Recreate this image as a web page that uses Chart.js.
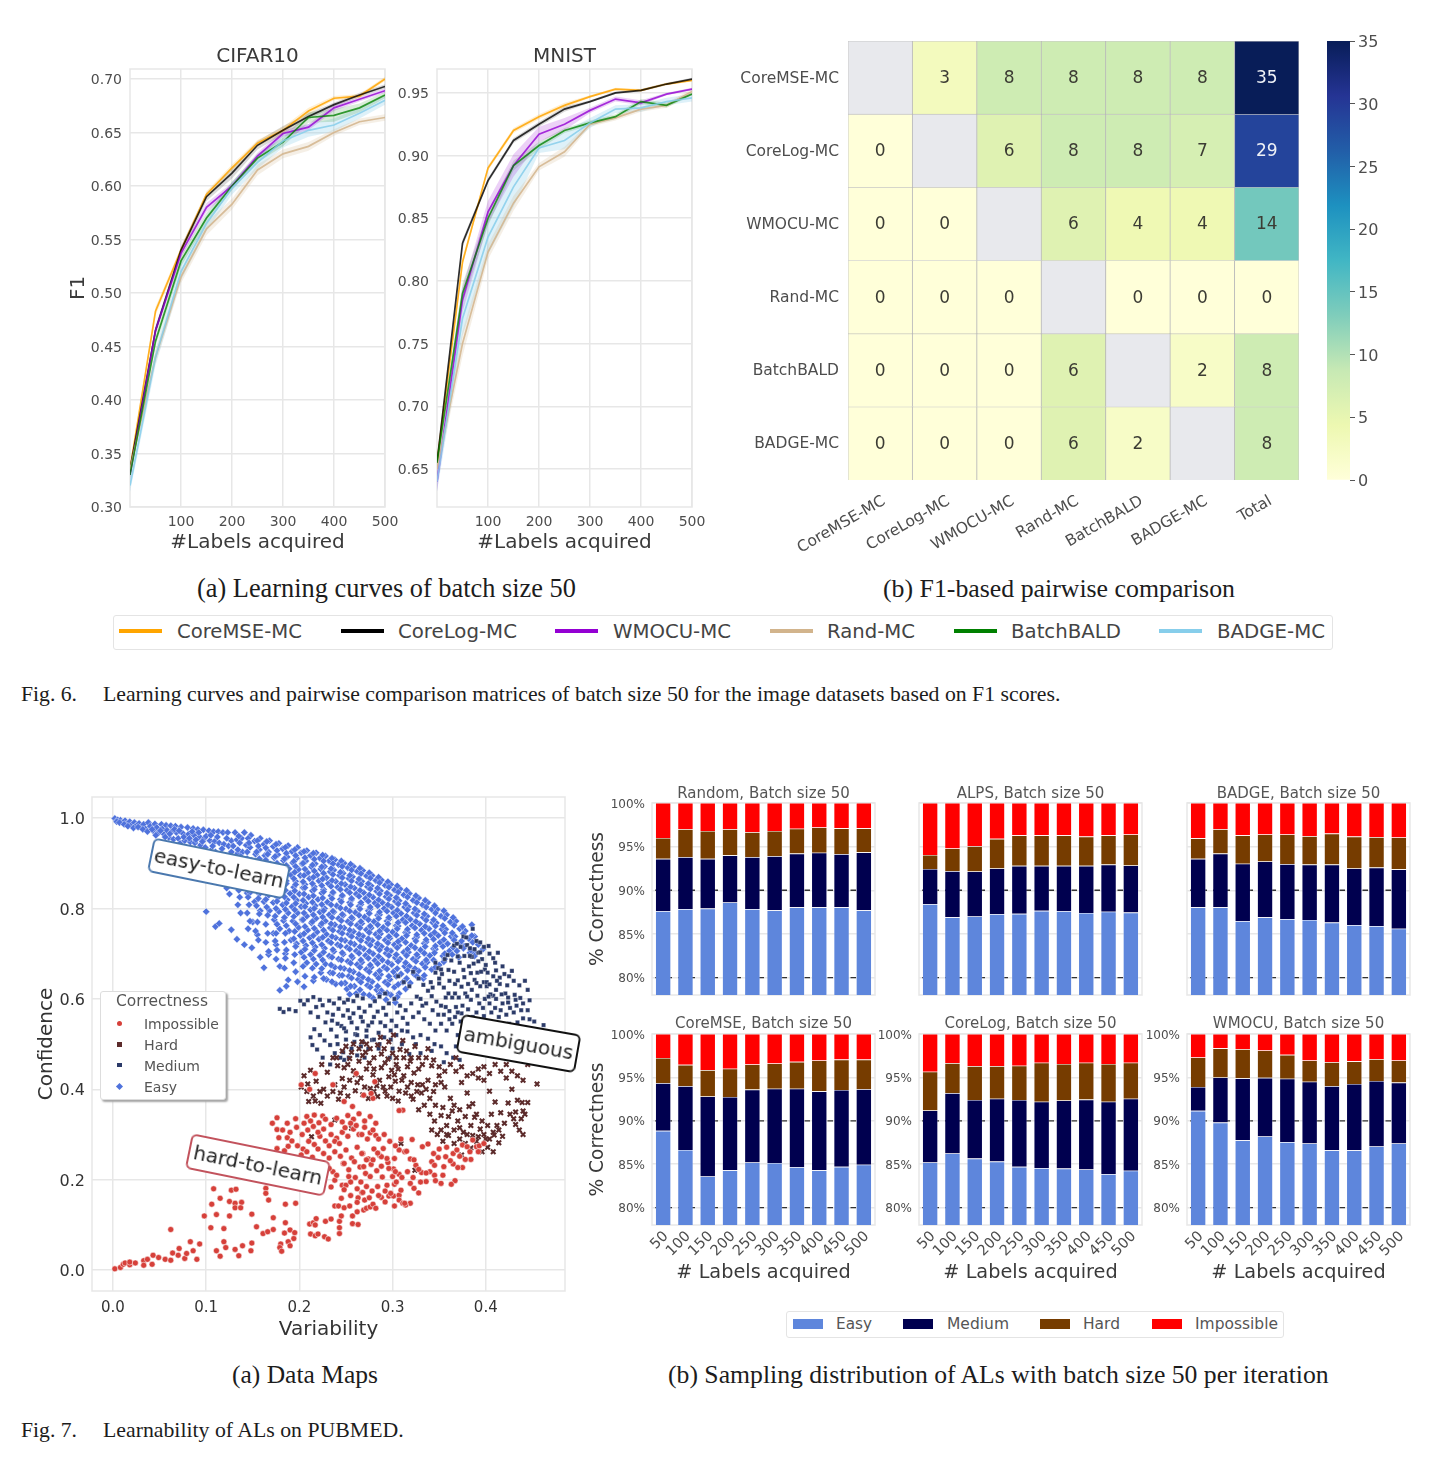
<!DOCTYPE html>
<html><head><meta charset="utf-8">
<script src="https://cdn.jsdelivr.net/npm/chart.js@4"></script>
<style>
html,body{margin:0;padding:0;background:#fff}
#page{position:relative;width:1432px;height:1461px;overflow:hidden;background:#fff;filter:blur(.45px)}
canvas{position:absolute}
.t{position:absolute;white-space:nowrap;transform:translateY(-50%);line-height:1}
.serif{font-family:"Liberation Serif",serif;color:#1c1c1c}
.sans{font-family:"DejaVu Sans",sans-serif;color:#444}
.box{position:absolute;background:#fff;border:1px solid #e4e4e4;border-radius:3px;box-sizing:border-box}
.sw{position:absolute}
.tag{position:absolute;background:#fff;font-family:"DejaVu Sans",sans-serif;font-size:20px;color:#222;text-align:center;border-radius:6px;border:2px solid;box-sizing:border-box;white-space:nowrap}
</style></head><body><div id="page"></div>
<script>
// ---------- learning curves ----------
const budgets=[0,50,100,150,200,250,300,350,400,450,500];
const methods=['CoreMSE-MC','CoreLog-MC','WMOCU-MC','Rand-MC','BatchBALD','BADGE-MC'];
const cifarCoreMSE=[.335,.483,.54,.592,.617,.64,.652,.67,.682,.684,.70];
const cifarCoreLog=[.335,.465,.54,.59,.612,.638,.652,.665,.676,.685,.693];
const cifarWMOCU=[.33,.465,.537,.58,.60,.628,.649,.655,.673,.681,.689];
const cifarRand=[.335,.44,.515,.56,.583,.615,.63,.637,.65,.66,.664];
const cifarBatchBALD=[.33,.455,.53,.57,.60,.626,.641,.664,.666,.673,.685];
const cifarBADGE=[.32,.44,.52,.565,.598,.622,.642,.652,.657,.668,.68];
const cifarBands=[[.004,.004,.003,.003,.003,.003,.003,.003,.002,.002,.002],[.004,.004,.004,.004,.005,.004,.004,.003,.002,.002,.002],[.004,.004,.004,.004,.003,.003,.003,.003,.003,.002,.002],[.004,.006,.006,.006,.005,.005,.004,.004,.003,.003,.003],[.004,.005,.005,.005,.004,.004,.004,.005,.006,.004,.003],[.006,.008,.008,.007,.006,.006,.006,.006,.006,.005,.004]];
const mnistCoreMSE=[.655,.815,.89,.92,.931,.94,.947,.953,.952,.957,.96];
const mnistCoreLog=[.655,.83,.88,.912,.925,.937,.943,.95,.952,.957,.961];
const mnistWMOCU=[.64,.785,.855,.892,.917,.925,.936,.945,.942,.949,.953];
const mnistRand=[.65,.75,.823,.862,.891,.903,.925,.93,.937,.94,.951];
const mnistBatchBALD=[.655,.79,.85,.892,.908,.92,.926,.931,.943,.94,.949];
const mnistBADGE=[.64,.77,.835,.875,.906,.912,.926,.937,.938,.943,.946];
const mnistBands=[[.005,.003,.002,.002,.002,.002,.001,.001,.001,.001,.001],[.005,.003,.002,.002,.002,.002,.001,.001,.001,.001,.001],[.008,.01,.009,.009,.006,.005,.002,.002,.002,.001,.001],[.006,.01,.006,.006,.003,.004,.002,.002,.002,.002,.002],[.005,.008,.006,.004,.003,.002,.002,.002,.002,.002,.001],[.008,.014,.014,.016,.004,.007,.004,.003,.003,.003,.003]];
const lineColors=['rgba(255,165,0,.85)','rgba(0,0,0,.8)','rgba(148,0,211,.8)','rgba(210,180,140,.85)','rgba(0,128,0,.78)','rgba(135,206,235,.85)'];
const bandColors=['rgba(255,165,0,.18)','rgba(0,0,0,.15)','rgba(148,0,211,.18)','rgba(210,180,140,.22)','rgba(0,128,0,.15)','rgba(135,206,235,.28)'];
const cifarTicks=[.30,.35,.40,.45,.50,.55,.60,.65,.70];
const mnistTicks=[.65,.70,.75,.80,.85,.90,.95];
const budgetTicks=[100,200,300,400,500];
// ---------- pairwise matrix ----------
const pairRows=['CoreMSE-MC','CoreLog-MC','WMOCU-MC','Rand-MC','BatchBALD','BADGE-MC'];
const pairCols=['CoreMSE-MC','CoreLog-MC','WMOCU-MC','Rand-MC','BatchBALD','BADGE-MC','Total'];
const rowCoreMSE=[null,3,8,8,8,8,35];
const rowCoreLog=[0,null,6,8,8,7,29];
const rowWMOCU=[0,0,null,6,4,4,14];
const rowRand=[0,0,0,null,0,0,0];
const rowBatchBALD=[0,0,0,6,null,2,8];
const rowBADGE=[0,0,0,6,2,null,8];
const colorbarTicks=[0,5,10,15,20,25,30,35];
const ylgnbu=['#ffffd9','#edf8b1','#c7e9b4','#7fcdbb','#41b6c4','#1d91c0','#225ea8','#253494','#081d58'];
// ---------- data map, x,y pairs in thousandths ----------
const impossiblePts=[2,3,8,6,11,13,13,16,18,12,18,18,24,16,33,21,33,11,37,24,42,13,43,33,49,28,56,24,62,22,62,90,64,38,71,48,70,33,77,26,79,37,83,63,86,43,90,24,93,58,98,120,105,94,106,146,108,180,111,123,111,43,115,31,115,159,119,92,119,63,121,50,125,152,125,120,127,177,132,179,131,46,131,148,131,138,138,150,137,138,135,32,139,54,148,43,149,60,149,124,154,96,164,181,164,170,167,155,161,81,166,85,172,90,172,116,185,146,196,148,185,105,184,82,190,89,195,83,194,70,188,63,190,54,180,58,179,50,181,42,211,102,215,105,218,114,217,100,212,80,217,76,220,80,227,74,231,69,228,108,234,113,243,81,243,94,243,108,245,120,238,142,242,142,245,159,248,138,254,142,257,120,257,103,263,101,262,129,263,160,267,172,269,133,272,137,276,140,279,146,282,137,288,161,292,151,296,164,301,164,302,142,307,166,307,155,311,148,319,148,314,144,171,325,176,337,176,311,187,325,196,335,208,340,216,343,225,341,178,293,187,293,192,286,188,274,176,269,184,264,158,260,203,300,209,310,215,318,221,326,228,334,234,322,240,336,246,328,252,342,258,334,264,346,270,330,276,340,282,325,198,275,204,268,210,285,216,278,222,296,228,286,234,300,240,292,246,305,252,296,258,312,264,300,270,316,276,304,282,298,202,255,208,262,214,250,220,268,226,258,232,248,238,262,244,252,250,266,256,248,262,272,268,258,274,246,280,268,286,254,247,236,253,222,259,240,265,228,271,214,277,234,283,220,289,206,295,238,301,224,307,212,313,262,319,246,325,232,331,216,236,218,238,199,234,184,246,188,250,188,253,207,248,236,294,188,302,190,300,207,303,218,296,225,294,247,302,247,307,266,321,289,315,263,332,273,338,279,344,258,349,249,357,251,365,258,369,266,375,277,380,273,386,288,390,273,393,275,384,245,375,227,370,227,365,235,367,198,363,190,352,192,354,210,355,229,342,240,340,218,336,196,328,171,323,181,319,192,323,244,328,223,309,177,313,148,288,251,290,269,279,244,284,259,269,229,272,244,276,207,284,185,288,230,267,258,279,380,281,417,236,410,217,435,202,410,211,400,261,435,248,373,257,362,269,387,277,391,311,354,307,353];
const impossibleFillPts=[182,310,190,305,197,316,205,325,212,330,220,305,226,312,232,275,238,285,243,280,249,315,255,325,261,320,267,300,273,290,279,310,285,290,291,300,297,285,303,275,309,290,225,235,232,225,240,210,210,240,218,232,260,205,266,195,272,185,278,175,285,165,292,175,298,170,304,195,310,205,316,218,322,205,330,195,336,215,345,210,346,198,255,165,262,150,270,155,248,178,255,195,262,180,268,172,275,160,345,232,350,268,358,272,362,242,372,252,378,245,383,262,392,262,398,280];
const hardPts=[205,430,212,442,218,418,224,455,230,438,236,470,241,452,246,424,250,495,254,468,258,441,262,415,267,505,271,482,275,458,279,432,283,408,287,515,291,490,295,467,299,442,303,418,307,396,311,508,315,485,319,462,323,436,327,410,331,392,209,412,226,400,238,410,244,392,252,385,260,397,268,388,276,402,284,384,292,396,300,380,306,374,314,392,322,378,248,448,256,482,264,462,272,445,280,470,288,448,296,428,304,455,312,430,320,415,328,445,336,470,342,452,338,420,344,395,350,430,356,405,362,380,368,440,374,415,380,392,386,368,392,445,398,420,404,396,410,372,416,348,422,425,428,400,434,376,440,352,346,365,352,342,358,320,364,352,370,330,376,305,382,362,388,338,394,312,400,290,406,345,412,320,418,296,424,370,430,335,436,310,342,310,348,300,354,285,360,298,366,280,372,290,378,280,384,270,390,285,396,262,402,272,408,262,414,282,439,371,445,371,440,300,432,322,409,299,210,373,217,374,223,369,238,332,256,314,213,295,309,280,324,221,374,255,455,412,445,455,301,520];
const hardFillPts=[202,405,208,395,215,385,222,395,230,385,236,395,242,378,248,405,254,420,260,432,266,425,270,405,274,380,280,395,286,420,290,405,294,385,298,405,302,432,306,445,310,420,316,405,320,385,326,395,332,410,336,400,340,380,346,410,352,415,240,470,246,485,252,455,258,500,264,490,268,475,272,500,276,490,280,445,284,498,288,478,292,458,296,505,300,480,304,470,308,488,312,470,316,450,320,470,324,495,328,470,332,455,338,490,344,465,350,450,356,440,362,455,368,470,374,450,380,430,386,435,392,425,398,450,404,435,410,455,416,440,422,455,428,440,434,430,440,420,354,360,360,340,366,365,372,355,378,340,384,320,390,345,396,330,402,320,408,305,414,310,420,325,426,345,432,350,438,335,442,345,340,345,334,365,328,355,345,330,352,310,358,300,366,310,372,315,380,300,386,298,392,295,398,300,404,290];
const mediumPts=[179,578,183,571,189,577,196,573,201,596,205,588,209,597,215,604,222,598,225,586,218,582,232,596,237,590,243,601,248,592,252,598,258,595,262,607,268,601,230,570,236,565,242,578,247,563,252,575,258,568,264,580,270,572,276,585,281,595,286,605,292,612,216,533,212,515,222,520,214,498,219,488,227,508,234,532,240,517,233,498,245,540,250,528,256,548,262,535,268,550,274,541,280,560,287,548,293,565,299,552,305,570,311,558,241,500,247,482,253,470,259,505,266,495,272,517,278,509,285,525,291,515,298,530,304,520,310,500,316,528,322,515,262,475,270,470,248,465,285,490,300,490,318,478,325,500,330,520,338,512,345,500,352,495,358,480,365,470,372,465,306,650,312,637,318,628,322,660,328,645,333,631,338,618,342,606,347,594,352,585,357,603,360,612,367,633,370,641,376,664,382,672,385,693,392,702,396,688,341,637,346,658,349,668,356,688,359,697,366,718,369,722,376,738,379,736,386,755,343,625,350,634,353,655,360,664,363,685,370,694,373,715,380,719,383,712,390,728,394,703,357,582,364,603,367,612,374,627,377,648,384,657,387,678,392,683,399,665,402,658,361,573,368,582,371,603,378,612,381,633,388,642,391,658,398,637,401,628,408,607,374,568,381,577,384,598,391,607,394,628,401,637,404,632,411,663,415,647,403,717,413,702,428,662,425,650,410,680,418,672,415,633,421,612,424,603,431,609,437,602,445,620,447,597,440,590,433,585,426,580,418,590,411,600,404,590,397,580,390,570,398,562,406,570,414,560,422,565,430,570,440,557,447,555,452,550,462,542,434,548,425,545];
const mediumFillPts=[212,570,220,560,228,548,235,552,241,545,248,535,254,558,260,522,266,560,272,530,278,548,284,572,290,580,296,590,302,600,308,585,314,575,320,590,326,605,332,585,238,480,244,470,250,510,256,490,262,520,268,505,274,490,280,510,286,500,292,540,298,510,304,540,310,530,316,545,322,560,328,570,334,555,340,545,346,530,352,545,358,530,364,545,370,520,376,540,382,525,388,545,394,520,400,545,406,530,412,545,225,470,233,455,297,470,330,480,342,485,355,460,368,495,378,500,390,480,330,600,336,590,343,575,349,565,355,565,361,555,367,560,373,550,379,555,386,560,393,590,399,600,405,610,411,620,417,610,346,680,352,665,350,645,355,625,361,640,366,660,372,680,377,695,383,695,388,710,394,725,398,715,404,700,408,690,400,675,395,660,390,635,385,620,380,605,375,585,370,570,412,640,408,650,420,655,423,630,430,640,436,630,442,640,403,605,410,580,416,575,424,592,432,598,438,575,445,575];
const easyPts=[2,999,5,996,8,995,10,990,13,994,15,988,18,992,20,985,23,990,25,983,28,988,30,980,33,986,35,976,38,990,40,982,43,972,45,987,47,979,49,968,52,986,53,976,55,964,57,984,58,973,60,957,62,983,63,970,65,953,67,982,68,968,70,955,72,944,73,980,75,966,77,950,78,936,80,979,81,964,83,947,84,930,86,977,87,962,88,945,90,926,91,975,93,958,94,940,95,915,97,974,98,955,99,935,101,905,103,972,104,950,105,928,106,912,108,970,109,948,110,925,111,895,113,970,114,945,115,918,116,885,118,968,119,942,120,915,121,875,123,968,124,938,125,905,126,860,127,950,131,968,133,952,129,938,134,922,130,908,132,892,135,878,128,862,133,848,141,968,138,955,143,940,139,925,144,910,140,895,137,880,142,865,139,850,144,834,148,962,152,949,147,935,153,920,149,906,151,892,146,878,154,864,150,850,147,835,152,815,158,955,162,942,157,930,163,917,159,903,161,888,156,875,164,860,160,846,157,832,162,815,158,795,168,950,172,937,167,925,173,912,169,898,171,884,166,871,174,857,170,843,167,829,172,813,168,795,173,775,178,944,182,932,177,919,183,906,179,893,181,880,176,866,184,852,180,838,177,824,182,808,178,793,183,773,179,755,188,939,192,926,187,914,193,901,189,888,191,874,186,861,194,847,190,833,187,819,192,804,188,790,193,772,189,750,191,730,198,935,202,923,197,911,203,899,199,886,201,873,196,860,204,846,200,832,197,818,202,804,198,790,203,775,199,758,201,740,197,722,202,703,208,928,212,917,207,905,213,892,209,879,211,866,206,853,214,839,210,825,207,811,212,797,208,783,213,768,209,752,211,735,207,718,212,698,208,680,218,923,222,911,217,899,223,887,219,874,221,861,216,848,224,834,220,820,217,806,222,792,218,778,223,763,219,748,221,732,217,715,222,696,218,677,223,658,228,916,232,905,227,893,233,881,229,868,231,855,226,842,234,828,230,814,227,800,232,786,228,772,233,757,229,743,231,728,227,712,232,695,228,677,233,658,229,643,238,908,242,897,237,885,243,873,239,860,241,847,236,834,244,820,240,806,237,792,242,778,238,764,243,749,239,735,241,720,237,705,242,688,238,670,243,652,239,633,248,900,252,890,247,878,253,866,249,853,251,840,246,827,254,813,250,799,247,785,252,771,248,757,253,743,249,729,251,714,247,699,252,683,248,667,253,650,249,635,251,622,258,893,262,882,257,870,263,858,259,845,261,832,256,819,264,805,260,791,257,777,262,763,258,749,263,735,259,721,261,706,257,691,262,676,258,660,263,643,259,628,261,612,268,884,272,872,267,860,273,848,269,835,271,822,266,809,274,795,270,781,267,767,272,753,268,739,273,725,269,711,271,696,267,681,272,665,268,648,273,630,269,610,278,873,282,862,277,850,283,838,279,825,281,812,276,799,284,785,280,771,277,757,282,743,278,729,283,715,279,700,281,685,277,670,282,654,278,638,283,620,279,602,288,863,292,851,287,839,293,826,289,813,291,800,286,786,294,772,290,758,287,744,292,730,288,716,293,701,289,686,291,670,287,654,292,637,288,618,293,598,298,853,302,841,297,829,303,816,299,803,301,790,296,776,304,762,300,748,297,734,302,720,298,706,303,691,299,676,301,660,297,643,302,626,298,609,303,592,308,843,312,830,307,817,313,803,309,789,311,775,306,761,314,747,310,733,307,718,312,703,308,688,313,672,309,655,311,637,307,612,318,833,322,818,317,804,323,790,319,776,321,762,316,747,324,733,320,718,317,703,322,688,318,672,323,655,319,635,328,823,332,808,327,794,333,780,329,766,331,752,326,737,334,723,330,708,327,693,332,678,328,662,333,645,338,813,342,798,337,783,343,769,339,755,341,741,336,726,344,711,340,696,337,681,342,665,348,798,352,783,347,768,353,754,349,740,351,725,346,710,354,695,350,675,358,786,362,770,357,754,363,738,359,722,361,706,356,688,368,772,372,755,367,738,373,722,369,706,371,692,378,750,382,733,377,716,383,702,385,764,388,738,392,720,387,703,397,710,388,695,100,793,110,760,114,767,127,753,133,732,141,720,149,713,158,692,167,698,162,669,179,619,186,628,188,642,179,672,198,638,205,627,215,640,155,742,150,770,172,745,175,720,185,700];
const easyFillPts=[4,992,7,990,12,986,16,982,22,978,27,980,32,975,37,970,42,975,46,962,51,972,56,958,61,965,66,975,71,972,76,958,82,955,85,970,89,952,92,968,96,948,100,960,105,962,107,938,104,902,106,882,112,958,117,932,113,905,116,875,112,858,122,955,127,925,123,890,127,875,122,845,125,832,135,960,136,945,134,930,137,915,135,900,136,885,134,870,137,855,135,840,136,825,134,808,137,790,145,955,146,945,144,925,147,903,145,888,146,872,144,857,147,842,145,825,146,808,144,790,147,772,145,755,155,950,156,938,154,925,157,910,155,897,156,882,154,868,157,853,155,838,156,822,154,806,157,788,155,770,153,750,156,730,165,948,164,934,166,920,164,907,165,892,166,878,164,865,165,850,166,836,164,820,165,803,166,785,164,765,166,745,164,725,167,705,175,942,176,928,174,915,176,900,175,887,174,873,176,858,175,845,174,830,176,816,175,800,174,783,176,765,175,745,174,728,176,708,175,688,185,935,186,922,184,910,186,895,185,882,184,868,186,855,185,840,184,826,186,812,185,798,184,780,186,762,185,745,184,725,186,708,185,690,184,668,195,930,196,917,194,904,196,893,195,880,194,866,196,853,195,839,194,825,196,811,195,797,194,782,196,766,195,749,194,733,196,716,195,698,194,680,196,660,205,926,206,912,204,900,206,887,205,873,204,859,206,846,205,832,204,818,206,804,205,790,204,775,206,760,205,744,204,728,206,710,205,692,204,672,206,650,215,922,216,909,214,896,216,883,215,869,214,855,216,842,215,828,214,814,216,800,215,786,214,771,216,756,215,740,214,724,216,707,215,688,214,668,216,648,225,918,226,905,224,892,226,878,225,865,224,851,226,837,225,823,224,809,226,795,225,781,224,767,226,752,225,736,224,720,226,703,225,686,224,667,226,645,235,911,236,899,234,888,236,875,235,862,234,849,236,836,235,822,234,808,236,794,235,780,234,766,236,752,235,738,234,724,236,709,235,692,234,675,236,657,235,638,245,905,246,893,244,880,246,868,245,855,244,842,246,829,245,815,244,801,246,787,245,773,244,759,246,745,245,731,244,717,246,702,245,686,244,669,246,652,245,634,255,898,256,885,254,873,256,861,255,848,254,835,256,822,255,808,254,794,256,780,255,766,254,752,256,738,255,724,254,710,256,695,255,679,254,663,256,646,255,628,254,610,265,889,266,877,264,865,266,853,265,840,264,827,266,813,265,799,264,785,266,771,265,757,264,743,266,729,265,715,264,701,266,686,265,670,264,654,266,637,265,620,275,879,276,867,274,855,276,843,275,830,274,816,276,803,275,789,274,775,276,761,275,747,274,733,276,719,275,705,274,690,276,675,275,660,274,643,276,626,275,608,285,869,286,857,284,845,286,832,285,819,284,806,286,792,285,778,284,764,286,750,285,736,284,722,286,708,285,694,284,678,286,662,285,646,284,628,286,610,295,859,296,847,294,834,296,821,295,808,294,794,296,780,295,766,294,752,296,738,295,724,294,710,296,696,295,681,294,666,296,650,295,632,294,613,305,850,306,836,304,824,306,810,305,796,304,783,306,769,305,755,304,741,306,727,305,713,304,698,306,683,305,667,304,650,306,632,305,604,315,840,316,825,314,811,316,797,315,783,314,769,316,754,315,740,314,725,316,710,315,696,314,680,316,663,315,645,314,622,325,828,326,813,324,799,326,785,325,771,324,757,326,742,325,728,324,713,326,698,325,683,324,667,326,650,335,818,336,803,334,788,336,774,335,760,334,745,336,731,335,716,334,701,336,686,335,670,334,652,345,806,346,790,344,775,346,761,345,747,344,732,346,717,345,702,344,686,346,670,355,795,356,778,354,762,356,746,355,731,354,716,356,700,355,682,365,780,366,763,364,746,366,730,365,714,364,698,375,760,376,744,374,728,376,712,385,740,386,725,384,708];
const variabilityTicks=[0,.1,.2,.3,.4];
const confidenceTicks=[0,.2,.4,.6,.8,1];
// ---------- sampling distribution ----------
const iterLabels=['50','100','150','200','250','300','350','400','450','500'];
const pctTicks=[80,85,90,95,100];
const refLines=[80,90];
const randomEasy=[87.6,87.85,87.9,88.6,87.85,87.7,88.05,88.05,88.05,87.7];
const randomMedium=[6,5.95,5.7,5.4,5.95,6.2,6.15,6.25,6.1,6.65];
const randomHard=[2.4,3.2,3.2,3,2.85,2.9,2.85,2.9,2.95,2.75];
const randomImpossible=[4,3,3.2,3,3.35,3.2,2.95,2.8,2.9,2.9];
const alpsEasy=[88.4,86.9,87,87.25,87.3,87.65,87.6,87.4,87.55,87.45];
const alpsMedium=[4.05,5.3,5.15,5.25,5.5,5.15,5.2,5.4,5.4,5.4];
const alpsHard=[1.6,2.6,2.9,3.4,3.5,3.5,3.5,3.35,3.35,3.55];
const alpsImpossible=[5.95,5.2,4.95,4.1,3.7,3.7,3.7,3.85,3.7,3.6];
const badgeEasy=[88.05,88.05,86.45,86.9,86.7,86.6,86.3,86,85.9,85.6];
const badgeMedium=[5.55,6.15,6.6,6.4,6.3,6.35,6.65,6.5,6.7,6.8];
const badgeHard=[2.35,2.8,3.25,3.1,3.4,3.25,3.55,3.65,3.5,3.65];
const badgeImpossible=[4.05,3,3.7,3.6,3.6,3.8,3.5,3.85,3.9,3.95];
const coremseEasy=[88.85,86.65,83.6,84.3,85.2,85.15,84.65,84.3,84.7,84.95];
const coremseMedium=[5.5,7.35,9.2,8.45,8.4,8.55,9.05,9.1,8.85,8.7];
const coremseHard=[2.9,2.45,3.05,3.25,2.9,2.9,3.1,3.55,3.5,3.4];
const coremseImpossible=[2.75,3.55,4.15,4,3.5,3.4,3.2,3.05,2.95,2.95];
const corelogEasy=[85.2,86.25,85.65,85.3,84.7,84.55,84.5,84.4,83.85,84.25];
const corelogMedium=[6,6.95,6.75,7.25,7.7,7.65,7.85,8.05,8.35,8.3];
const corelogHard=[4.45,3.45,3.9,3.75,3.95,4.5,4.2,4.25,4.35,4.15];
const corelogImpossible=[4.35,3.35,3.7,3.7,3.65,3.3,3.45,3.3,3.45,3.3];
const wmocuEasy=[91.15,89.8,87.75,88.2,87.55,87.4,86.6,86.6,87.05,87.4];
const wmocuMedium=[2.75,5.2,7.15,6.75,7.3,7.1,7.4,7.65,7.55,7];
const wmocuHard=[3.4,3.35,3.35,3.15,2.75,2.45,2.75,2.6,2.5,2.55];
const wmocuImpossible=[2.7,1.65,1.75,1.9,2.4,3.05,3.25,3.15,2.9,3.05];
const levelNames=['Easy','Medium','Hard','Impossible'];
const levelColors=['#5e86dc','#00004f','#763c00','#ff0000'];

// ---------- helpers ----------
const page=document.getElementById('page');
const SANS='"DejaVu Sans", sans-serif';
const GRID='#e7e7e7', TICK='#4d4d4d';
Chart.defaults.font.family=SANS;
const measureCtx=document.createElement('canvas').getContext('2d');
function fitText(str,x1,x2,yc,family,cls,color){
  measureCtx.font='100px '+family;
  const size=100*(x2-x1)/measureCtx.measureText(str).width;
  const d=document.createElement('div');d.className='t '+cls;d.textContent=str;
  d.style.cssText+=`left:${x1}px;top:${yc+1}px;font-size:${size.toFixed(2)}px;`+(color?`color:${color};`:'');
  page.appendChild(d);
}
function mk(plot,m){
  const c=document.createElement('canvas');
  c.width=plot.r-plot.l+m.l+m.r;c.height=plot.b-plot.t+m.t+m.b;
  c.style.left=(plot.l-m.l)+'px';c.style.top=(plot.t-m.t)+'px';
  page.appendChild(c);return c.getContext('2d');
}
const frame={id:'frame',beforeDatasetsDraw(ch){const a=ch.chartArea,g=ch.ctx;g.save();g.strokeStyle=GRID;g.lineWidth=1.5;g.strokeRect(a.left,a.top,a.right-a.left,a.bottom-a.top);g.restore();}};
function fixedX(h){return s=>{s.height=h;s.paddingLeft=0;s.paddingRight=0;};}
function fixedY(w){return s=>{s.width=w;s.paddingTop=0;s.paddingBottom=0;};}
const base={responsive:false,animation:false,devicePixelRatio:1,events:[]};
function legendOff(extra){return Object.assign({legend:{display:false},tooltip:{enabled:false}},extra||{});}

// ---------- line panels ----------
function linePanel(title,plot,series,bands,yr,yt,yTitle,ml){
  const pts=a=>a.map((v,i)=>({x:budgets[i],y:v}));
  const ds=[];
  series.forEach((s,i)=>ds.push({label:methods[i],data:pts(s),borderColor:lineColors[i],borderWidth:1.7,pointRadius:0,fill:false,tension:0,order:6-i}));
  series.forEach((s,i)=>{
    ds.push({label:methods[i]+' upper',data:pts(s.map((v,j)=>v+bands[i][j])),borderWidth:0,pointRadius:0,fill:'+1',backgroundColor:bandColors[i],order:20+i});
    ds.push({label:methods[i]+' lower',data:pts(s.map((v,j)=>v-bands[i][j])),borderWidth:0,pointRadius:0,fill:false,order:20+i});
  });
  const m={l:ml,r:22,t:40,b:48};
  new Chart(mk(plot,m),{type:'line',data:{datasets:ds},plugins:[frame],options:Object.assign({},base,{
    layout:{padding:{top:m.t-24,right:m.r}},
    plugins:legendOff({title:{display:true,text:title,fullSize:false,color:'#3a3a3a',font:{size:20,weight:'normal',family:SANS},padding:{top:0,bottom:0}}}),
    scales:{
      x:{type:'linear',min:0,max:500,afterFit:fixedX(m.b),afterBuildTicks:s=>{s.ticks=budgetTicks.map(v=>({value:v}));},
        grid:{color:GRID,lineWidth:1.5,drawTicks:false},border:{display:false},
        ticks:{color:TICK,font:{size:14},padding:7,maxRotation:0,minRotation:0},
        title:{display:true,text:'#Labels acquired',color:'#3a3a3a',font:{size:20},padding:0}},
      y:{min:yr[0],max:yr[1],afterFit:fixedY(ml),afterBuildTicks:s=>{s.ticks=yt.map(v=>({value:v}));},
        grid:{color:GRID,lineWidth:1.5,drawTicks:false},border:{display:false},
        ticks:{color:TICK,font:{size:14},padding:8,labelOffset:1.5,callback:v=>v.toFixed(2)},
        title:{display:!!yTitle,text:yTitle||'',color:'#3a3a3a',font:{size:20},padding:0}}
    }})});
}
linePanel('CIFAR10',{l:130,r:385,t:69,b:507},[cifarCoreMSE,cifarCoreLog,cifarWMOCU,cifarRand,cifarBatchBALD,cifarBADGE],cifarBands,[.30,.7093],cifarTicks,'F1',63);
linePanel('MNIST',{l:436.5,r:692,t:69,b:507},[mnistCoreMSE,mnistCoreLog,mnistWMOCU,mnistRand,mnistBatchBALD,mnistBADGE],mnistBands,[.6197,.969],mnistTicks,'',42);

// ---------- heat map ----------
function ylColor(v){
  if(v===null) return '#e8e9ed';
  const t=v/35*8,i=Math.min(7,Math.floor(t)),f=t-i;
  const p=h=>[1,3,5].map(k=>parseInt(h.substr(k,2),16));
  const a=p(ylgnbu[i]),b=p(ylgnbu[i+1]);
  return `rgb(${a.map((c,k)=>Math.round(c+(b[k]-c)*f)).join(',')})`;
}
const pairMatrix=[rowCoreMSE,rowCoreLog,rowWMOCU,rowRand,rowBatchBALD,rowBADGE];
const cellText={id:'cellText',afterDatasetsDraw(ch){
  const g=ch.ctx,x=ch.scales.x,y=ch.scales.y;g.save();g.font='17px '+SANS;g.textAlign='center';g.textBaseline='middle';
  pairMatrix.forEach((row,r)=>row.forEach((v,c)=>{if(v===null)return;
    g.fillStyle=v>20?'#eef1f6':'#3c3c34';g.fillText(String(v),x.getPixelForTick(c),y.getPixelForValue(5.5-r)+1);}));
  g.restore();}};
{
  const m={l:120,r:30,t:10,b:80};
  new Chart(mk({l:848,r:1299,t:41,b:480},m),{type:'bar',
    data:{labels:pairCols,datasets:pairMatrix.map((row,r)=>({label:pairRows[r],data:row.map(()=>1),backgroundColor:row.map(ylColor),borderColor:'rgba(110,110,110,.38)',borderWidth:.8,barPercentage:1,categoryPercentage:1})).reverse()},
    plugins:[cellText],options:Object.assign({},base,{layout:{padding:{top:m.t,right:m.r}},plugins:legendOff(),
      scales:{
        x:{stacked:true,afterFit:fixedX(m.b),grid:{display:false,drawTicks:false},border:{display:false},
           ticks:{color:TICK,font:{size:15.5},minRotation:30,maxRotation:30,padding:12,labelOffset:4,autoSkip:false}},
        y:{stacked:true,min:0,max:6,afterFit:fixedY(m.l),afterBuildTicks:s=>{s.ticks=pairRows.map((n,i)=>({value:5.5-i}));},
           grid:{display:false,drawTicks:false},border:{display:false},
           ticks:{color:TICK,font:{size:15.5},padding:9,labelOffset:1,callback:v=>pairRows[Math.round(5.5-v)]}}
      }})});
  const mc={l:0,r:60,t:12,b:12};
  new Chart(mk({l:1327,r:1350,t:41,b:480},mc),{type:'bar',
    data:{labels:['Total'],datasets:[{label:'scale',data:[colorbarTicks[colorbarTicks.length-1]],barPercentage:1,categoryPercentage:1,
      backgroundColor:c=>{const a=c.chart.chartArea;if(!a)return '#fff';const g=c.chart.ctx.createLinearGradient(0,a.bottom,0,a.top);ylgnbu.forEach((h,i)=>g.addColorStop(i/8,h));return g;}}]},
    options:Object.assign({},base,{layout:{padding:{top:mc.t,bottom:mc.b}},plugins:legendOff(),
      scales:{x:{display:false},
        y:{position:'right',min:0,max:35,afterFit:fixedY(mc.r),afterBuildTicks:s=>{s.ticks=colorbarTicks.map(v=>({value:v}));},
          grid:{drawOnChartArea:false,color:'#555',tickLength:5,lineWidth:1},border:{display:false},
          ticks:{color:TICK,font:{size:16},padding:3,labelOffset:2}}}})});
}

// ---------- data map ----------
function pairs(a){const o=[];for(let i=0;i<a.length;i+=2)o.push({x:a[i]/1000,y:a[i+1]/1000});return o;}
{
  const m={l:57,r:15,t:8,b:51};
  new Chart(mk({l:92,r:565,t:797,b:1291},m),{type:'scatter',data:{datasets:[
    {label:'Impossible',data:pairs(impossiblePts.concat(impossibleFillPts)),pointStyle:'circle',pointRadius:3,backgroundColor:'#d6403a',borderColor:'rgba(255,255,255,.75)',borderWidth:.7},
    {label:'Hard',data:pairs(hardPts.concat(hardFillPts)),pointStyle:'crossRot',pointRadius:3.2,borderColor:'#5c2b2b',borderWidth:2.1},
    {label:'Medium',data:pairs(mediumPts.concat(mediumFillPts)),pointStyle:'rect',pointRadius:3,backgroundColor:'#2b3a68',borderColor:'rgba(255,255,255,.6)',borderWidth:.5},
    {label:'Easy',data:pairs(easyPts.concat(easyFillPts)),pointStyle:'rectRot',pointRadius:3.7,backgroundColor:'#4f72dc',borderColor:'rgba(255,255,255,.7)',borderWidth:.6}
  ]},plugins:[frame],options:Object.assign({},base,{layout:{padding:{top:m.t,right:m.r}},plugins:legendOff(),
    scales:{
      x:{type:'linear',min:-.0225,max:.485,afterFit:fixedX(m.b),afterBuildTicks:s=>{s.ticks=variabilityTicks.map(v=>({value:v}));},
        grid:{color:GRID,lineWidth:1.5,drawTicks:false},border:{display:false},
        ticks:{color:'#333',font:{size:15},padding:8,maxRotation:0,callback:v=>v.toFixed(1)},
        title:{display:true,text:'Variability',color:'#333',font:{size:20},padding:0}},
      y:{min:-.046,max:1.0465,afterFit:fixedY(m.l),afterBuildTicks:s=>{s.ticks=confidenceTicks.map(v=>({value:v}));},
        grid:{color:GRID,lineWidth:1.5,drawTicks:false},border:{display:false},
        ticks:{color:'#333',font:{size:16},padding:7,labelOffset:2,callback:v=>v.toFixed(1)},
        title:{display:true,text:'Confidence',color:'#333',font:{size:20},padding:0}}
    }})});
}

// ---------- stacked panels ----------
const dashRefs={id:'dashRefs',beforeDatasetsDraw(ch){const a=ch.chartArea,y=ch.scales.y,g=ch.ctx;g.save();g.strokeStyle='#333';g.lineWidth=1.3;g.setLineDash([5.5,6]);
  refLines.forEach(v=>{const p=y.getPixelForValue(v);g.beginPath();g.moveTo(a.left+3,p);g.lineTo(a.right-3,p);g.stroke();});g.restore();}};
function stackPanel(title,col,row,vals,showY,showX,yTitle){
  const colL=[652,919,1187][col],tops=[803,1034][row],bots=[995,1225][row];
  const ml=yTitle?65:(showY?45:3),mb=showX?60:3;
  const m={l:ml,r:10,t:30,b:mb},bb=row?1:0;
  new Chart(mk({l:colL,r:colL+223,t:tops,b:bots},m),{type:'bar',
    data:{labels:iterLabels,datasets:vals.map((v,i)=>({label:levelNames[i],data:v,backgroundColor:levelColors[i],borderColor:'rgba(255,255,255,.45)',borderWidth:.6,barPercentage:.7,categoryPercentage:1}))},
    plugins:[frame,dashRefs],options:Object.assign({},base,{layout:{padding:{top:m.t-18-bb,right:m.r}},
      plugins:legendOff({title:{display:true,text:title,fullSize:false,color:'#555',font:{size:15,weight:'normal',family:SANS},padding:{top:0,bottom:bb}}}),
      scales:{
        x:{stacked:true,afterFit:fixedX(mb),grid:{display:false,drawTicks:false},border:{display:false},
          ticks:{display:showX,color:TICK,font:{size:14.5},minRotation:45,maxRotation:45,padding:3,labelOffset:3,autoSkip:false},
          title:{display:showX,text:'# Labels acquired',color:'#3a3a3a',font:{size:19.3},padding:0}},
        y:{stacked:true,min:78,max:100,afterFit:fixedY(ml),afterBuildTicks:s=>{s.ticks=pctTicks.map(v=>({value:v}));},
          grid:{color:GRID,lineWidth:1.5,drawTicks:false},border:{display:false},
          ticks:{display:showY,color:TICK,font:{size:12},padding:7,labelOffset:1.5,callback:v=>v+'%'},
          title:{display:!!yTitle,text:'% Correctness',color:'#3a3a3a',font:{size:18.6},padding:0}}
      }})});
}
stackPanel('Random, Batch size 50',0,0,[randomEasy,randomMedium,randomHard,randomImpossible],true,false,true);
stackPanel('ALPS, Batch size 50',1,0,[alpsEasy,alpsMedium,alpsHard,alpsImpossible],false,false,false);
stackPanel('BADGE, Batch size 50',2,0,[badgeEasy,badgeMedium,badgeHard,badgeImpossible],false,false,false);
stackPanel('CoreMSE, Batch size 50',0,1,[coremseEasy,coremseMedium,coremseHard,coremseImpossible],true,true,true);
stackPanel('CoreLog, Batch size 50',1,1,[corelogEasy,corelogMedium,corelogHard,corelogImpossible],true,true,false);
stackPanel('WMOCU, Batch size 50',2,1,[wmocuEasy,wmocuMedium,wmocuHard,wmocuImpossible],true,true,false);

// ---------- page text, legends, tags ----------
const SERIF='"Liberation Serif"',DJ='"DejaVu Sans"';
fitText('(a) Learning curves of batch size 50',197,576,588,SERIF,'serif');
fitText('(b) F1-based pairwise comparison',883,1235,588,SERIF,'serif');
fitText('Fig. 6.',21,77,694,SERIF,'serif');
fitText('Learning curves and pairwise comparison matrices of batch size 50 for the image datasets based on F1 scores.',103,1061,694,SERIF,'serif');
fitText('(a) Data Maps',232,378,1374,SERIF,'serif');
fitText('(b) Sampling distribution of ALs with batch size 50 per iteration',668,1330,1374,SERIF,'serif');
fitText('Fig. 7.',21,77,1430,SERIF,'serif');
fitText('Learnability of ALs on PUBMED.',103,405,1430,SERIF,'serif');
function addBox(l,t,r,b,extra){const d=document.createElement('div');d.className='box';d.style.cssText=`left:${l}px;top:${t}px;width:${r-l}px;height:${b-t}px;`+(extra||'');page.appendChild(d);}
function swatch(l,t,w,h,c,extra){const d=document.createElement('div');d.className='sw';d.style.cssText=`left:${l}px;top:${t}px;width:${w}px;height:${h}px;background:${c};`+(extra||'');page.appendChild(d);}
addBox(113,615,1333,650);
[[119,177,302],[341,398,517],[555,613,731],[770,827,915],[954,1011,1121],[1159,1217,1325]].forEach((p,i)=>{
  swatch(p[0],629,43,3.5,['#ffa500','#000','#9400d3','#d2b48c','#008000','#87ceeb'][i]);
  fitText(methods[i],p[1],p[2],631,DJ,'sans');
});
addBox(786,1311,1284,1338);
[[793,836,872],[903,947,1009],[1040,1083,1120],[1152,1195,1278]].forEach((p,i)=>{
  swatch(p[0],1319,30,10,levelColors[i]);
  fitText(levelNames[i],p[1],p[2],1324,DJ,'sans','#555');
});
addBox(100,991,226,1100,'box-shadow:2px 2px 2px #a5a5a5;border-color:#ddd;');
fitText('Correctness',116,208,1001,DJ,'sans','#555');
[['Impossible',219,1023],['Hard',178,1044],['Medium',200,1065],['Easy',177,1086]].forEach(p=>fitText(p[0],144,p[1],p[2],DJ,'sans','#555'));
swatch(116.5,1020.5,5,5,'#d6403a','border-radius:50%;');
swatch(116.5,1041.5,5,5,'#5c2b2b');
swatch(117,1062.5,4.5,4.5,'#2b3a68');
swatch(116.5,1083.5,5,5,'#4f72dc','transform:rotate(45deg);');
function tag(text,cx,cy,w,h,rot,color){const d=document.createElement('div');d.className='tag';d.textContent=text;
  d.style.cssText=`left:${cx-w/2}px;top:${cy-h/2}px;width:${w}px;height:${h}px;line-height:${h-4}px;border-color:${color};transform:rotate(${rot}deg);`;page.appendChild(d);}
tag('easy-to-learn',219,868,140,35,11.5,'#4a78ae');
tag('ambiguous',518,1043,121,39,10,'#111');
tag('hard-to-learn',258,1165,142,36,11.5,'#c2525c');
</script></body></html>
